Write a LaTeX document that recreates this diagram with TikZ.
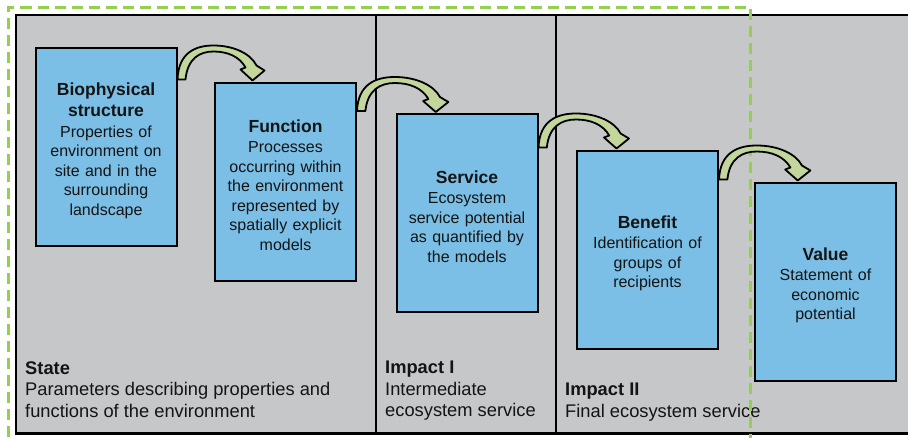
\documentclass[tikz,border=0pt]{standalone}
\usepackage{fontspec}
\setmainfont{Liberation Sans}
\definecolor{panelgray}{RGB}{198,199,201}
\definecolor{boxblue}{RGB}{123,190,230}
\definecolor{arrowgreen}{RGB}{195,214,155}
\definecolor{dashgreen}{RGB}{146,208,80}
\definecolor{txt}{RGB}{20,20,20}
\newcommand{\ttl}[1]{{\fontsize{17.5}{19.5}\selectfont\bfseries #1}}
\newcommand{\topgap}{\rule{0pt}{20pt}}
\tikzset{
  box/.style={draw=black, line width=2pt, fill=boxblue, minimum width=141pt,
    minimum height=198pt, text width=138pt, align=center, inner sep=0pt,
    text=txt, font=\fontsize{16}{19.5}\selectfont},
  lbl/.style={anchor=north west, inner sep=0pt, align=left, text=txt,
    font=\fontsize{18.3}{21.5}\selectfont},
  carrow/.pic={
    \filldraw[fill=arrowgreen, draw=black, line width=1.8pt, line join=round]
      (0,-2) .. controls (1,-29) and (18,-36) .. (36,-36)
      .. controls (56,-36) and (73,-28) .. (79,-16)
      -- (87,-11) -- (75,-1) -- (63,-12) -- (68,-14)
      .. controls (62,-25) and (50,-30) .. (36,-30)
      .. controls (22,-30) and (10,-23) .. (8,-2) -- cycle;
  }
}
\begin{document}
\begin{tikzpicture}[x=1pt,y=-1pt]
\useasboundingbox (0,0) rectangle (908,437);
\clip (0,0) rectangle (908,437);
% background panel
\draw[fill=panelgray, line width=2.5pt] (16,15) rectangle (920,433.5);
\draw[line width=1.5pt] (376,15) -- (376,433.5);
\draw[line width=1.5pt] (556,15) -- (556,433.5);
% boxes
\node[box] (b1) at (106,147) {\topgap\ttl{Biophysical}\\[2pt]\ttl{structure}\\[1pt]Properties of\\environment on\\site and in the\\surrounding\\landscape};
\node[box] (b2) at (285.5,181.5) {\topgap\ttl{Function}\\[1pt]Processes\\occurring within\\the environment\\represented by\\spatially explicit\\models};
\node[box] (b3) at (467,213) {\topgap\ttl{Service}\\[1pt]Ecosystem\\service potential\\as quantified by\\the models};
\node[box] (b4) at (647.5,249.5) {\topgap\ttl{Benefit}\\[1pt]Identification of\\groups of\\recipients};
\node[box] (b5) at (825.5,281.5) {\topgap\ttl{Value}\\[1pt]Statement of\\economic\\potential};
% bottom labels
\node[lbl] (state) at (25,361.5) {\textbf{State}\\Parameters describing properties and\\functions of the environment};
\node[lbl] (imp1) at (385,361) {\textbf{Impact I}\\Intermediate\\ecosystem service};
\node[lbl] (imp2) at (565,383) {\textbf{Impact II}\\Final ecosystem service};
% dashed frame
\draw[dashgreen, line width=3pt, dash pattern=on 11pt off 6pt] (750,445) -- (750,7.5) -- (8,7.5) -- (8,445);
% curved arrows
\pic at (b1.east |- b2.north) {carrow};
\pic[xscale=1.05] at (b2.east |- b3.north) {carrow};
\pic[xscale=1.04] at (b3.east |- b4.north) {carrow};
\pic[xscale=1.05] at (b4.east |- b5.north) {carrow};
\end{tikzpicture}
\end{document}
